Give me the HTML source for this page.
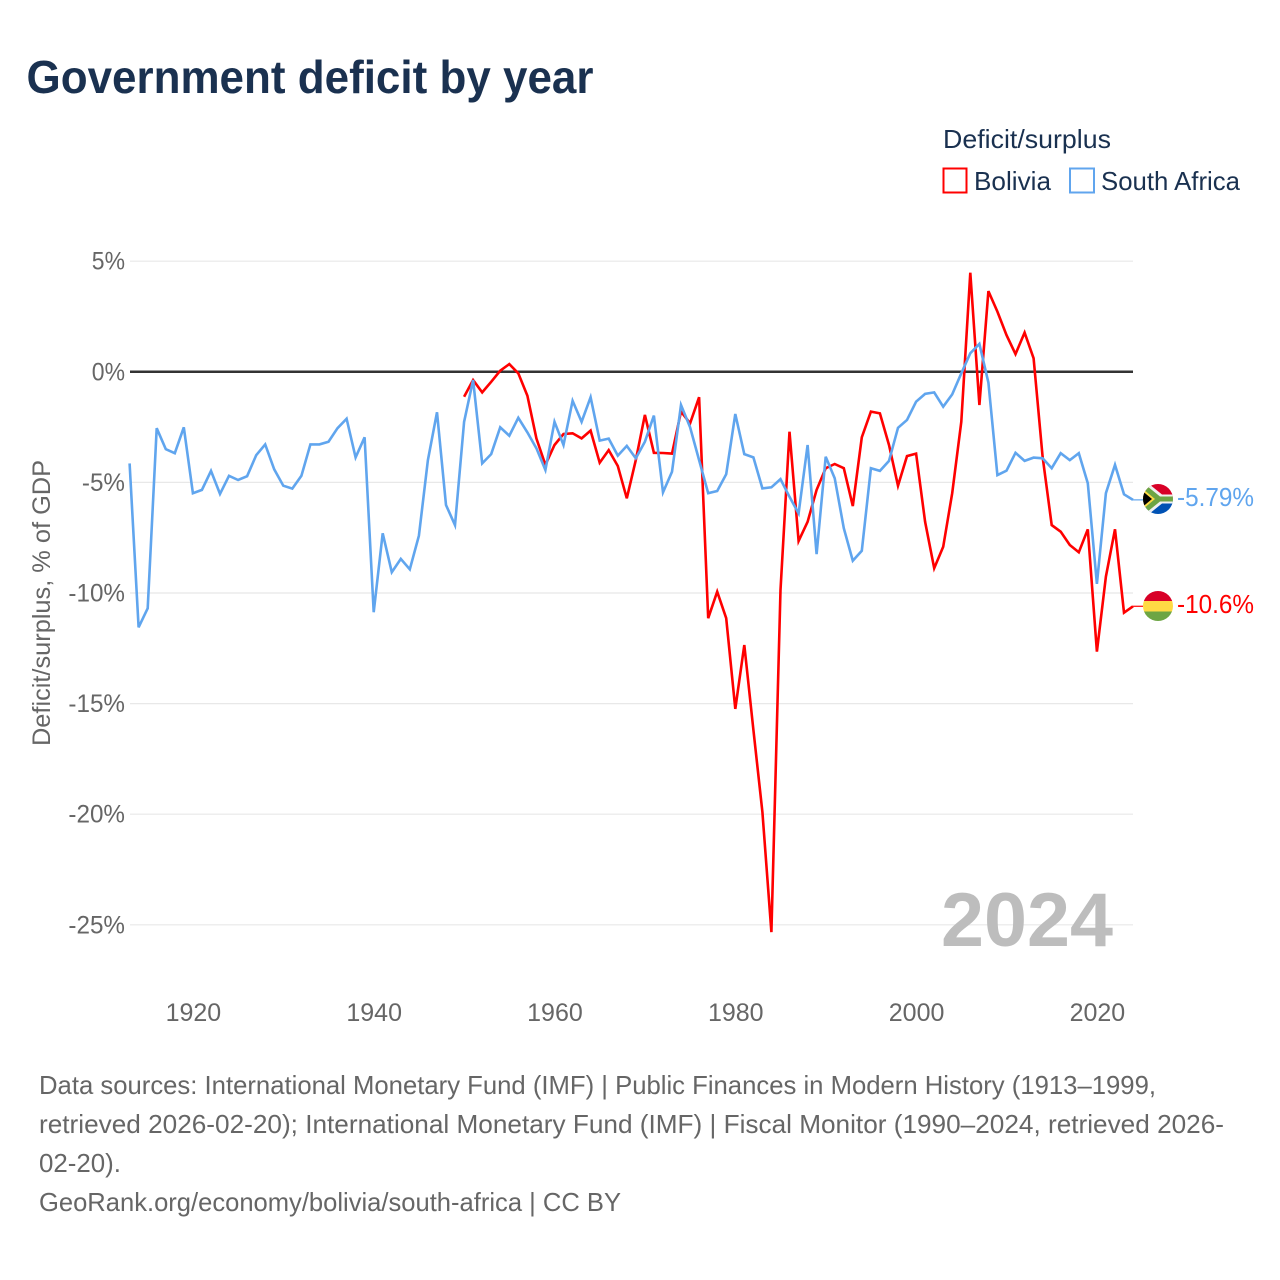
<!DOCTYPE html>
<html lang="en">
<head>
<meta charset="utf-8">
<title>Government deficit by year</title>
<style>
html,body{margin:0;padding:0;background:#fff;}
svg{display:block;font-family:"Liberation Sans",sans-serif;}
</style>
</head>
<body>
<svg id="chart" xmlns="http://www.w3.org/2000/svg" width="1280" height="1280" viewBox="0 0 1280 1280">
  <rect width="1280" height="1280" fill="#fff"/>
  <text x="26.5" y="93" font-size="46" font-weight="700" fill="#1a3150" textLength="567" lengthAdjust="spacingAndGlyphs">Government deficit by year</text>
  <text x="943" y="148" font-size="26" fill="#1a3150" textLength="168" lengthAdjust="spacingAndGlyphs">Deficit/surplus</text>
  <g>
    <rect x="943.5" y="168.5" width="23" height="24" fill="#fff" stroke="#ff0000" stroke-width="2"/>
    <text x="974" y="190" font-size="26" fill="#1a3150" textLength="77" lengthAdjust="spacingAndGlyphs">Bolivia</text>
  </g>
  <g>
    <rect x="1070" y="168.5" width="24" height="24" fill="#fff" stroke="#60a5ee" stroke-width="2"/>
    <text x="1101" y="190" font-size="26" fill="#1a3150" textLength="139" lengthAdjust="spacingAndGlyphs">South Africa</text>
  </g>
  <g id="grid"></g>
  <g id="yticks"></g>
  <g id="xticks"></g>
  <text transform="translate(50 603) rotate(-90)" text-anchor="middle" font-size="25" fill="#666" textLength="286" lengthAdjust="spacingAndGlyphs">Deficit/surplus, % of GDP</text>
  <text x="941" y="946" font-size="76" font-weight="700" fill="#bdbdbd" textLength="172" lengthAdjust="spacingAndGlyphs">2024</text>
  <g id="series"></g>
  <defs>
    <clipPath id="clip-za"><circle cx="1158" cy="499" r="15"/></clipPath>
    <clipPath id="clip-bo"><circle cx="1158" cy="606" r="15"/></clipPath>
  </defs>
  <g clip-path="url(#clip-za)">
    <rect x="1143" y="484" width="30" height="15" fill="#d80027"/>
    <rect x="1143" y="499" width="30" height="15" fill="#0052b4"/>
    <polygon points="1143,484 1149,484 1162,494.5 1173,494.5 1173,503.5 1162,503.5 1149,514 1143,514" fill="#f0f0f0"/>
    <polygon points="1143,486 1147,486 1160,496.5 1173,496.5 1173,501.5 1160,501.5 1147,512 1143,512" fill="#6da544"/>
    <polygon points="1143,489 1155,499 1143,509" fill="#ffda44"/>
    <polygon points="1143,491.5 1152,499 1143,506.5" fill="#000"/>
  </g>
  <g clip-path="url(#clip-bo)">
    <rect x="1143" y="591" width="30" height="10" fill="#d80027"/>
    <rect x="1143" y="601" width="30" height="10.5" fill="#ffda44"/>
    <rect x="1143" y="611.5" width="30" height="10" fill="#6da544"/>
  </g>
  <text x="1177" y="506" font-size="26" fill="#60a5ee" textLength="77" lengthAdjust="spacingAndGlyphs">-5.79%</text>
  <text x="1177" y="613" font-size="26" fill="#ff0000" textLength="77" lengthAdjust="spacingAndGlyphs">-10.6%</text>
  <g font-size="26" fill="#666">
    <text x="39" y="1094" textLength="1117" lengthAdjust="spacingAndGlyphs">Data sources: International Monetary Fund (IMF) | Public Finances in Modern History (1913–1999,</text>
    <text x="39" y="1133" textLength="1185" lengthAdjust="spacingAndGlyphs">retrieved 2026-02-20); International Monetary Fund (IMF) | Fiscal Monitor (1990–2024, retrieved 2026-</text>
    <text x="39" y="1172" textLength="82" lengthAdjust="spacingAndGlyphs">02-20).</text>
    <text x="39" y="1211" textLength="582" lengthAdjust="spacingAndGlyphs">GeoRank.org/economy/bolivia/south-africa | CC BY</text>
  </g>
</svg>
<script>
const yTickValues = [5, 0, -5, -10, -15, -20, -25];
const xTickYears = [1920, 1940, 1960, 1980, 2000, 2020];
const southAfricaStartYear = 1913;
const boliviaStartYear = 1950;
const southAfricaValues = [
  -4.14, -11.55, -10.69, -2.55, -3.50, -3.68, -2.51, -5.49, -5.34, -4.48,
  -5.52, -4.70, -4.89, -4.72, -3.77, -3.28, -4.41, -5.15, -5.28, -4.70,
  -3.28, -3.28, -3.16, -2.55, -2.12, -3.87, -2.96, -10.87, -7.30, -9.06,
  -8.46, -8.93, -7.41, -3.99, -1.83, -6.02, -6.93, -2.26, -0.37, -4.14,
  -3.72, -2.51, -2.89, -2.08, -2.74, -3.46, -4.44, -2.26, -3.31, -1.31,
  -2.26, -1.15, -3.11, -3.02, -3.79, -3.35, -3.91, -3.16, -1.98, -5.45,
  -4.52, -1.50, -2.51, -3.99, -5.49, -5.39, -4.63, -1.91, -3.72, -3.87,
  -5.27, -5.22, -4.85, -5.65, -6.40, -3.31, -8.24, -3.84, -4.81, -7.07,
  -8.54, -8.09, -4.36, -4.48, -4.03, -2.53, -2.18, -1.35, -1.00, -0.93,
  -1.58, -1.02, -0.07, 0.84, 1.26, -0.49, -4.67, -4.47, -3.66, -4.03,
  -3.88, -3.91, -4.36, -3.68, -3.99, -3.68, -5.04, -9.59, -5.49, -4.21,
  -5.54, -5.79
];
const boliviaValues = [
  -1.13, -0.37, -0.93, -0.45, 0.05, 0.35, -0.07, -1.08, -3.01, -4.21,
  -3.31, -2.81, -2.78, -3.01, -2.66, -4.11, -3.54, -4.26, -5.72, -3.99,
  -1.95, -3.66, -3.67, -3.70, -1.80, -2.33, -1.15, -11.14, -9.94, -11.14,
  -15.24, -12.35, -16.19, -19.90, -25.33, -9.86, -2.71, -7.65, -6.78, -5.34,
  -4.36, -4.17, -4.36, -6.07, -2.96, -1.80, -1.88, -3.31, -5.15, -3.81,
  -3.70, -6.78, -8.88, -7.91, -5.49, -2.26, 4.48, -1.50, 3.65, 2.72,
  1.66, 0.80, 1.77, 0.61, -3.84, -6.93, -7.23, -7.83, -8.16, -7.12,
  -12.65, -9.26, -7.12, -10.89, -10.60
];

const NS = 'http://www.w3.org/2000/svg';
const xScale = year => 129.6 + (year - 1913) * 9.04;
const yScale = value => 371.8 - value * 22.12;
const gridGroup = document.getElementById('grid');
const yTickGroup = document.getElementById('yticks');
const xTickGroup = document.getElementById('xticks');
const seriesGroup = document.getElementById('series');

yTickValues.forEach(function (value) {
  const line = document.createElementNS(NS, 'line');
  
  
  line.setAttribute('x1', 130);
  line.setAttribute('x2', 1133);
  line.setAttribute('y1', yScale(value));
  line.setAttribute('y2', yScale(value));
  line.setAttribute('stroke', value === 0 ? '#333' : '#e8e8e8');
  line.setAttribute('stroke-width', value === 0 ? 2.5 : 1.2);
  gridGroup.appendChild(line);

  const label = document.createElementNS(NS, 'text');
  
  
  label.setAttribute('x', 125);
  label.setAttribute('y', yScale(value) + 8.5);
  label.setAttribute('text-anchor', 'end');
  label.setAttribute('font-size', 25);
  label.setAttribute('fill', '#666');
  label.textContent = value + '%';
  yTickGroup.appendChild(label);
  label.setAttribute('textLength', (label.getComputedTextLength() * (value < 0 ? 0.97 : 0.92)).toFixed(1));
  label.setAttribute('lengthAdjust', 'spacingAndGlyphs');
});

xTickYears.forEach(function (year) {
  const label = document.createElementNS(NS, 'text');
  
  
  label.setAttribute('x', xScale(year) + 0.5);
  label.setAttribute('y', 1021);
  label.setAttribute('text-anchor', 'middle');
  label.setAttribute('font-size', 25);
  label.setAttribute('fill', '#666');
  label.textContent = year;
  xTickGroup.appendChild(label);
});

function pointsFor(values, startYear) {
  return values.map(function (value, index) {
    return xScale(startYear + index).toFixed(1) + ',' + yScale(value).toFixed(1);
  }).join(' ');
}

const boliviaLine = document.createElementNS(NS, 'polyline');


boliviaLine.setAttribute('points', pointsFor(boliviaValues, boliviaStartYear));
boliviaLine.setAttribute('fill', 'none');
boliviaLine.setAttribute('stroke', '#ff0000');
boliviaLine.setAttribute('stroke-width', 2.6);
seriesGroup.appendChild(boliviaLine);

const southAfricaLine = document.createElementNS(NS, 'polyline');


southAfricaLine.setAttribute('points', pointsFor(southAfricaValues, southAfricaStartYear));
southAfricaLine.setAttribute('fill', 'none');
southAfricaLine.setAttribute('stroke', '#60a5ee');
southAfricaLine.setAttribute('stroke-width', 2.6);
seriesGroup.appendChild(southAfricaLine);

const boliviaConnector = document.createElementNS(NS, 'line');


boliviaConnector.setAttribute('x1', xScale(2024));
boliviaConnector.setAttribute('x2', 1143);
boliviaConnector.setAttribute('y1', yScale(boliviaValues[boliviaValues.length - 1]));
boliviaConnector.setAttribute('y2', yScale(boliviaValues[boliviaValues.length - 1]));
boliviaConnector.setAttribute('stroke', '#ff0000');
boliviaConnector.setAttribute('stroke-width', 1.2);
seriesGroup.appendChild(boliviaConnector);

const southAfricaConnector = document.createElementNS(NS, 'line');


southAfricaConnector.setAttribute('x1', xScale(2024));
southAfricaConnector.setAttribute('x2', 1143);
southAfricaConnector.setAttribute('y1', yScale(southAfricaValues[southAfricaValues.length - 1]));
southAfricaConnector.setAttribute('y2', yScale(southAfricaValues[southAfricaValues.length - 1]));
southAfricaConnector.setAttribute('stroke', '#60a5ee');
southAfricaConnector.setAttribute('stroke-width', 1.2);
seriesGroup.appendChild(southAfricaConnector);
</script>
</body>
</html>
